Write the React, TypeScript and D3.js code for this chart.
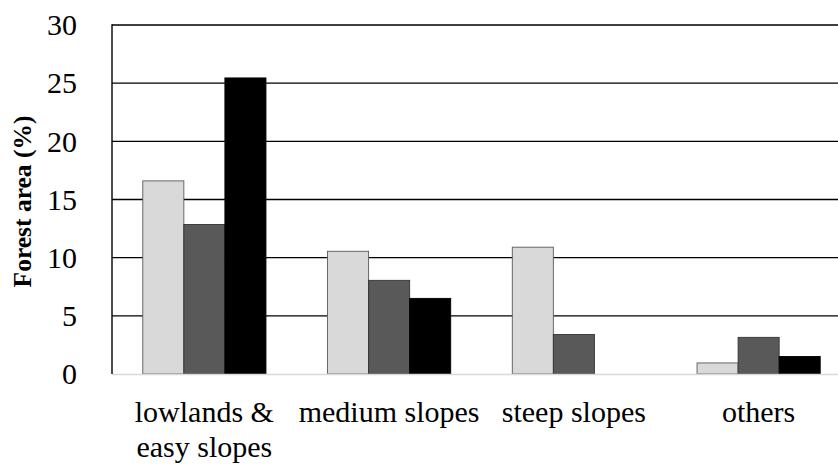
import React, { useEffect } from "react";
import * as d3 from "d3";

const categories = [["lowlands &", "easy slopes"], ["medium slopes"], ["steep slopes"], ["others"]];
const categoryKeys = ["lowlands", "medium", "steep", "others"];
const seriesNames = ["s1", "s2", "s3"];
const series1 = [16.6, 10.55, 10.9, 0.95];
const series2 = [12.85, 8.05, 3.4, 3.15];
const series3 = [25.45, 6.5, 0, 1.5];
const seriesColors = ["#d9d9d9", "#595959", "#000000"];
const seriesStrokes = ["#5a5a5a", "#333333", "#000000"];
const yTicks = [0, 5, 10, 15, 20, 25, 30];
const yTitle = "Forest area (%)";

const W = 838;
const H = 464;
const M = { left: 112, right: -13, top: 25, bottom: 90 };

export default function App() {
  useEffect(() => {
    document.body.style.margin = "0";
  }, []);
  const values = [series1, series2, series3];
  const x = d3
    .scaleBand<string>()
    .domain(categoryKeys)
    .range([M.left, W - M.right])
    .paddingInner(1.5 / 4.5)
    .paddingOuter(0.75 / 4.5);
  const xs = d3.scaleBand<string>().domain(seriesNames).range([0, x.bandwidth()]);
  const y = d3.scaleLinear().domain([0, 30]).range([H - M.bottom, M.top]);
  const font = "Liberation Serif";
  return (
    <svg width={W} height={H} style={{ display: "block" }}>
      <rect x={0} y={0} width={W} height={H} fill="#fff" />
      {yTicks.filter((t) => t > 0).map((t) => (
        <line key={t} x1={M.left} x2={W - M.right} y1={y(t)} y2={y(t)} stroke="#000" strokeWidth={1.4} />
      ))}
      {categoryKeys.map((c, ci) => (
        <g key={c}>
          {values.map((vals, si) =>
            vals[ci] > 0 ? (
              <rect
                key={si}
                x={(x(c) as number) + (xs(seriesNames[si]) as number)}
                y={y(vals[ci])}
                width={xs.bandwidth()}
                height={y(0) - y(vals[ci])}
                fill={seriesColors[si]}
                stroke={seriesStrokes[si]}
                strokeWidth={0.9}
              />
            ) : null
          )}
        </g>
      ))}
      <line x1={M.left} x2={W - M.right} y1={y(0) + 0.5} y2={y(0) + 0.5} stroke="#d9d9d9" strokeWidth={1.6} />
      <line x1={M.left} x2={M.left} y1={y(30) - 0.7} y2={y(0)} stroke="#000" strokeWidth={1.4} />
      {yTicks.map((t) => (
        <text
          key={t}
          x={77}
          y={y(t)}
          dy="0.34em"
          textAnchor="end"
          fontFamily={font}
          fontSize={30}
          fill="#000"
        >
          {t}
        </text>
      ))}
      {categoryKeys.map((c, ci) => (
        <text
          key={c}
          x={(x(c) as number) + x.bandwidth() / 2}
          y={421.5}
          textAnchor="middle"
          fontFamily={font}
          fontSize={30}
          fill="#000"
        >
          {categories[ci].map((line, li) => (
            <tspan key={li} x={(x(c) as number) + x.bandwidth() / 2} dy={li === 0 ? 0 : 35}>
              {line}
            </tspan>
          ))}
        </text>
      ))}
      <text
        transform={`translate(31,${(y(0) + y(30)) / 2 + 2}) rotate(-90)`}
        textAnchor="middle"
        fontFamily={font}
        fontWeight="bold"
        fontSize={25.5}
        fill="#000"
      >
        {yTitle}
      </text>
    </svg>
  );
}
